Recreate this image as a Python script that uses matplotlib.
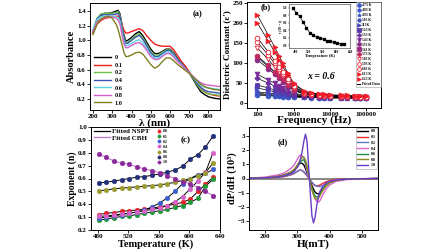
import matplotlib
matplotlib.use("Agg")
import matplotlib.pyplot as plt
from matplotlib.lines import Line2D

plt.rcParams["font.family"] = ["Liberation Serif", "DejaVu Serif"]
plt.rcParams["font.weight"] = "bold"
plt.rcParams["axes.labelweight"] = "bold"
plt.rcParams["axes.linewidth"] = 0.7
plt.rcParams["xtick.major.width"] = 0.6
plt.rcParams["ytick.major.width"] = 0.6
plt.rcParams["xtick.major.size"] = 2
plt.rcParams["ytick.major.size"] = 2
plt.rcParams["xtick.minor.size"] = 0
plt.rcParams["ytick.minor.size"] = 0

# ---------- (a) UV-vis absorbance ----------
wl = [200, 220, 240, 260, 280, 300, 320, 330, 340, 350, 360, 370, 380, 400, 420, 440, 460, 480,
      500, 520, 540, 560, 580, 600, 620, 640, 660, 680, 700, 720, 740, 760, 780, 800, 830, 860]
abs_0 = [1.10, 1.28, 1.35, 1.37, 1.37, 1.38, 1.40, 1.41, 1.36, 1.22, 1.08, 0.99, 1.00, 1.04, 1.09, 1.12, 1.06, 0.97,
         0.88, 0.82, 0.82, 0.85, 0.88, 0.88, 0.83, 0.75, 0.69, 0.63, 0.56, 0.47, 0.38, 0.30, 0.26, 0.23, 0.21, 0.20]
abs_1 = [1.10, 1.22, 1.27, 1.30, 1.31, 1.32, 1.33, 1.33, 1.30, 1.22, 1.14, 1.10, 1.10, 1.12, 1.14, 1.16, 1.13, 1.06,
         1.00, 0.95, 0.93, 0.92, 0.92, 0.92, 0.87, 0.79, 0.71, 0.65, 0.57, 0.49, 0.41, 0.34, 0.30, 0.27, 0.25, 0.24]
abs_2 = [1.14, 1.30, 1.36, 1.37, 1.37, 1.37, 1.38, 1.39, 1.34, 1.20, 1.05, 0.97, 0.97, 1.01, 1.06, 1.09, 1.03, 0.94,
         0.85, 0.80, 0.80, 0.84, 0.87, 0.87, 0.82, 0.74, 0.68, 0.62, 0.56, 0.48, 0.40, 0.33, 0.29, 0.27, 0.26, 0.25]
abs_4 = [1.12, 1.29, 1.34, 1.35, 1.35, 1.35, 1.36, 1.37, 1.32, 1.17, 1.03, 0.96, 0.96, 1.00, 1.04, 1.07, 1.01, 0.92,
         0.83, 0.78, 0.78, 0.82, 0.86, 0.86, 0.81, 0.74, 0.68, 0.62, 0.56, 0.49, 0.42, 0.36, 0.32, 0.30, 0.29, 0.28]
abs_6 = [1.15, 1.28, 1.32, 1.33, 1.33, 1.33, 1.32, 1.31, 1.26, 1.12, 0.99, 0.93, 0.93, 0.96, 0.99, 1.01, 0.96, 0.88,
         0.80, 0.76, 0.76, 0.80, 0.84, 0.84, 0.79, 0.72, 0.67, 0.61, 0.56, 0.50, 0.44, 0.39, 0.36, 0.35, 0.34, 0.33]
abs_8 = [1.12, 1.25, 1.29, 1.31, 1.32, 1.32, 1.30, 1.28, 1.22, 1.08, 0.96, 0.90, 0.90, 0.93, 0.96, 0.97, 0.93, 0.86,
         0.78, 0.74, 0.74, 0.78, 0.82, 0.82, 0.77, 0.71, 0.66, 0.61, 0.56, 0.51, 0.46, 0.42, 0.40, 0.39, 0.38, 0.37]
abs_10 = [1.08, 1.22, 1.29, 1.32, 1.33, 1.30, 1.22, 1.15, 1.05, 0.95, 0.84, 0.78, 0.78, 0.80, 0.83, 0.84, 0.81, 0.74,
          0.67, 0.62, 0.65, 0.71, 0.76, 0.76, 0.72, 0.67, 0.63, 0.59, 0.55, 0.50, 0.45, 0.40, 0.37, 0.35, 0.33, 0.32]
abs_labels = ["0", "0.1", "0.2", "0.4", "0.6", "0.8", "1.0"]
abs_colors = ["black", "#ee1c1c", "#6cc24a", "#3a55b4", "#5fd3e0", "#d35fc8", "#808020"]

# ---------- (b) dielectric constant ----------
freq = [100, 200, 300, 400, 500, 700, 1000, 2000, 3000, 5000, 7000, 10000, 20000, 30000, 50000, 70000, 100000]
temps_b = ["473 K", "483 K", "493 K", "503 K", "513K", "523 K", "533 K", "543 K",
           "553 K", "563 K", "573 K", "583 K", "593 K", "603 K", "613 K", "623 K"]
eps = [
    [20, 18.5, 17.5, 17, 16.5, 16, 15.5, 14.5, 14, 13.5, 13.5, 13, 13, 12.5, 12.5, 12, 12],
    [22, 20, 19, 18, 17.5, 16.5, 16, 15, 14.5, 14, 13.5, 13.5, 13, 13, 12.5, 12.5, 12.5],
    [25, 22, 20.5, 19.5, 18.5, 17.5, 16.5, 15, 14.5, 14, 14, 13.5, 13.5, 13, 13, 13, 12.5],
    [28, 25, 23, 21, 20, 18.5, 17, 15.5, 15, 14.5, 14, 14, 13.5, 13.5, 13, 13, 13],
    [38, 32, 28, 26, 24, 21, 19, 16.5, 15.5, 15, 14.5, 14, 14, 13.5, 13.5, 13, 13],
    [45, 38, 33, 30, 27, 23, 20, 17, 16, 15, 15, 14.5, 14, 14, 13.5, 13.5, 13.5],
    [62, 50, 43, 38, 34, 28, 23, 18, 17, 16, 15.5, 15, 14.5, 14.5, 14, 14, 14],
    [72, 58, 50, 44, 39, 32, 26, 19, 17.5, 16.5, 16, 15.5, 15, 15, 14.5, 14.5, 14],
    [108, 86, 72, 62, 54, 43, 32, 22, 20, 18, 17.5, 17, 16, 15.5, 15, 15, 14.5],
    [115, 91, 76, 65, 57, 45, 33, 23, 20, 18.5, 18, 17, 16.5, 16, 15.5, 15, 15],
    [118, 94, 78, 67, 59, 46, 34, 23, 21, 19, 18, 17.5, 16.5, 16, 15.5, 15.5, 15],
    [138, 109, 90, 77, 67, 52, 37, 25, 22, 20, 19, 18, 17, 16.5, 16, 16, 15.5],
    [152, 120, 99, 84, 73, 56, 40, 26, 23, 20, 19, 18.5, 17.5, 17, 16.5, 16, 16],
    [163, 128, 106, 90, 78, 60, 42, 27, 24, 21, 20, 19, 18, 17.5, 17, 16.5, 16],
    [200, 155, 128, 108, 92, 70, 47, 29, 25, 22, 21, 20, 19, 18.5, 18, 17.5, 17],
    [220, 170, 140, 118, 100, 75, 50, 30, 26, 23, 22, 21, 20, 19.5, 19, 18.5, 18],
]
b_colors = ["#3b5bc8", "#3b5bc8", "#3d55c0", "#4050c0", "#4a46b8", "#5a3aa8", "#6a2fa0", "#7a2a98",
            "#8a2a8a", "#9a2a80", "#c02a60", "#e02a40", "#e8283a", "#ee2030", "#f01e2a", "#f01e28"]
b_markers = ["o", "h", "*", "H", ">", "s", "P", "v", "o", "s", "o", "v", "o", "o", ">", ">"]
b_open = [False] * 10 + [False, True, True, True, False, False]

# inset: relaxation vs temperature
inset_T = [473, 483, 493, 503, 513, 523, 533, 543, 553, 563, 573, 583, 593, 603, 613, 623]
inset_v = [1.0, 0.86, 0.77, 0.62, 0.46, 0.32, 0.26, 0.22, 0.19, 0.15, 0.12, 0.10, 0.07, 0.05, 0.04, 0.03]

# ---------- (c) exponent n ----------
temp_c = [481, 491, 501, 511, 521, 531, 541, 551, 561, 571, 581, 591, 601, 611, 621, 631]
n_series = {
    "0.0": [0.32, 0.33, 0.335, 0.345, 0.35, 0.355, 0.36, 0.37, 0.38, 0.39, 0.40, 0.415, 0.44, 0.50, 0.555, 0.61],
    "0.1": [0.275, 0.285, 0.295, 0.305, 0.31, 0.32, 0.33, 0.34, 0.35, 0.36, 0.375, 0.39, 0.415, 0.445, 0.54, 0.595],
    "0.2": [0.295, 0.30, 0.31, 0.32, 0.33, 0.34, 0.355, 0.38, 0.41, 0.45, 0.50, 0.56, 0.60, 0.63, 0.64, 0.67],
    "0.4": [0.305, 0.31, 0.315, 0.325, 0.33, 0.34, 0.35, 0.36, 0.37, 0.39, 0.42, 0.46, 0.52, 0.58, 0.65, 0.80],
    "0.6": [0.505, 0.51, 0.52, 0.525, 0.53, 0.535, 0.54, 0.545, 0.55, 0.56, 0.57, 0.585, 0.60, 0.62, 0.645, 0.72],
    "0.8": [0.565, 0.572, 0.58, 0.59, 0.60, 0.61, 0.615, 0.625, 0.635, 0.65, 0.665, 0.695, 0.75, 0.785, 0.845, 0.93],
    "1.0": [0.79, 0.765, 0.735, 0.72, 0.71, 0.69, 0.675, 0.66, 0.645, 0.62, 0.60, 0.575, 0.56, 0.53, 0.50, 0.465],
}
n_colors = ["#e8202a", "#1f9a3a", "#3a5fcd", "#d462c8", "#9a9a30", "#22307a", "#8a2a9a"]

# ---------- (d) EPR ----------
field = [150, 200, 240, 260, 280, 290, 300, 305, 310, 315, 320, 325, 330, 335, 340, 345, 350, 355,
         360, 365, 370, 380, 390, 400, 420, 450, 500, 550]
epr = {
    "0.0": [0.01, 0.05, 0.15, 0.25, 0.45, 0.6, 0.85, 1.0, 1.08, 1.05, 0.95, 0.7, 0.4, 0.1, -0.2, -0.5, -0.75, -0.95,
            -1.05, -1.08, -1.0, -0.7, -0.45, -0.3, -0.12, -0.05, -0.02, 0.0],
    "0.1": [0.0, 0.03, 0.08, 0.13, 0.25, 0.35, 0.5, 0.58, 0.6, 0.55, 0.45, 0.32, 0.18, 0.05, -0.12, -0.28, -0.42, -0.5,
            -0.52, -0.5, -0.45, -0.33, -0.22, -0.15, -0.07, -0.03, -0.01, 0.0],
    "0.2": [0.0, 0.04, 0.1, 0.16, 0.28, 0.38, 0.5, 0.56, 0.58, 0.55, 0.48, 0.36, 0.22, 0.06, -0.1, -0.25, -0.38, -0.47,
            -0.53, -0.56, -0.56, -0.48, -0.38, -0.28, -0.14, -0.06, -0.02, 0.0],
    "0.4": [0.02, 0.1, 0.25, 0.4, 0.7, 0.95, 1.35, 1.55, 1.65, 1.6, 1.4, 1.0, 0.5, 0.1, -0.3, -0.7, -1.1, -1.45,
            -1.6, -1.65, -1.55, -1.1, -0.7, -0.45, -0.2, -0.08, -0.03, 0.0],
    "0.6": [0.01, 0.04, 0.12, 0.2, 0.38, 0.55, 0.82, 1.0, 1.17, 1.28, 1.3, 1.12, 0.75, 0.25, -0.25, -0.7, -1.02, -1.22,
            -1.3, -1.25, -1.08, -0.72, -0.45, -0.28, -0.11, -0.05, -0.02, 0.0],
    "0.8": [0.01, 0.05, 0.15, 0.25, 0.45, 0.65, 0.95, 1.15, 1.35, 1.48, 1.5, 1.3, 0.9, 0.3, -0.3, -0.8, -1.15, -1.38,
            -1.45, -1.4, -1.2, -0.8, -0.5, -0.3, -0.12, -0.05, -0.02, 0.0],
    "1.0": [0.0, 0.05, 0.12, 0.2, 0.35, 0.5, 0.8, 1.0, 1.4, 1.9, 2.6, 3.1, 2.6, 0.8, -1.0, -2.6, -3.1, -2.7,
            -1.9, -1.3, -0.9, -0.5, -0.3, -0.2, -0.1, -0.05, -0.02, 0.0],
}
epr_colors = ["black", "#ee2a2a", "#5a78c8", "#d864c8", "#208a4a", "#8c8c1c", "#6a3cc8"]

W, H = 448, 252
fig = plt.figure(figsize=(4.48, 2.52), dpi=100)


def rect(x0, y0, x1, y1):
    return [x0 / W, 1 - y1 / H, (x1 - x0) / W, (y1 - y0) / H]


tick_fs = 5

# (a)
ax = fig.add_axes(rect(90, 3, 220, 110))
for ys, lab, c in zip([abs_0, abs_1, abs_2, abs_4, abs_6, abs_8, abs_10], abs_labels, abs_colors):
    ax.plot(wl, ys, color=c, lw=1.0, label=lab)
ax.set_xlim(184, 860)
ax.set_ylim(0.05, 1.51)
ax.set_xticks([200, 300, 400, 500, 600, 700, 800])
ax.set_yticks([0.2, 0.4, 0.6, 0.8, 1.0, 1.2, 1.4])
ax.tick_params(labelsize=tick_fs, pad=1)
ax.set_xlabel("λ (nm)", fontsize=8, labelpad=-0.5)
ax.set_ylabel("Absorbance", fontsize=7.5, labelpad=1)
ax.text(0.83, 0.90, "(a)", transform=ax.transAxes, fontsize=6, ha="center", va="center")
ax.legend(loc="lower left", bbox_to_anchor=(0.0, 0.0), frameon=False, fontsize=4.5,
          handlelength=2.6, labelspacing=0.35, borderaxespad=0.3, handletextpad=0.6)

# (b)
ax = fig.add_axes(rect(247, 2, 381, 108))
for ys, lab, c, m, op in zip(eps, temps_b, b_colors, b_markers, b_open):
    ax.plot(freq, ys, color="black", lw=0.5, zorder=1)
    ax.plot(freq, ys, ls="none", marker=m, ms=3.4, mfc="white" if op else c, mec=c, mew=0.6,
            label=lab, zorder=2)
ax.set_xscale("log")
ax.set_xlim(52, 260000)
ax.set_ylim(-12, 252)
ax.set_xticks([100, 1000, 10000, 100000])
ax.set_xticklabels(["100", "1000", "10000", "100000"])
ax.set_yticks([0, 50, 100, 150, 200, 250])
ax.tick_params(labelsize=tick_fs, pad=1)
ax.set_xlabel("Frequency (Hz)", fontsize=8, labelpad=-1)
ax.set_ylabel("Dielectric Constant (ε′)", fontsize=6.5, labelpad=1)
ax.text(0.14, 0.95, "(b)", transform=ax.transAxes, fontsize=6, ha="center", va="center")
ax.text(0.55, 0.30, "x = 0.6", transform=ax.transAxes, fontsize=7, style="italic",
        ha="center", va="center")
handles, labels = ax.get_legend_handles_labels()
handles.append(Line2D([], [], color="black", lw=0.8))
labels.append("Fitted Data")
leg = ax.legend(handles, labels, loc="upper right", fontsize=2.6, frameon=True, fancybox=False,
                edgecolor="#888888", handlelength=1.0, labelspacing=0.25, borderpad=0.3,
                borderaxespad=0.1, handletextpad=0.4, markerscale=0.8)
leg.get_frame().set_linewidth(0.4)

ins = fig.add_axes(rect(289, 4, 350, 48))
ins.plot(inset_T, inset_v, color="black", lw=0.5, marker="s", ms=1.6)
ins.set_xlim(462, 640)
ins.set_ylim(-0.08, 1.1)
ins.set_xticks([480, 520, 560, 600, 640])
ins.set_yticks([0.0, 0.2, 0.4, 0.6, 0.8, 1.0])
ins.tick_params(labelsize=2.5, pad=0.5, length=1, width=0.3)
for s in ins.spines.values():
    s.set_linewidth(0.5)
    s.set_color("#555555")
ins.set_xlabel("Temperature (K)", fontsize=3, labelpad=0)
ins.set_ylabel("τ (10⁻⁴ s)", fontsize=2.5, labelpad=0.5)

# (c)
ax = fig.add_axes(rect(91, 127, 220, 230))
for (lab, ys), c in zip(n_series.items(), n_colors):
    fit_c = "#c070d0" if lab == "1.0" else "black"
    ax.plot(temp_c, ys, color=fit_c, lw=0.7, zorder=1)
    ax.plot(temp_c, ys, ls="none", marker="o", ms=3.4, mfc=c, mec=c, mew=0.3, label=lab, zorder=2)
ax.set_xlim(471, 640)
ax.set_ylim(0.2, 1.0)
ax.set_xticks([480, 520, 560, 600, 640])
ax.set_yticks([0.2, 0.3, 0.4, 0.5, 0.6, 0.7, 0.8, 0.9, 1.0])
ax.tick_params(labelsize=tick_fs, pad=1)
ax.set_xlabel("Temperature (K)", fontsize=7.5, labelpad=0)
ax.set_ylabel("Exponent (n)", fontsize=7, labelpad=1)
ax.text(0.73, 0.87, "(c)", transform=ax.transAxes, fontsize=6.5, ha="center", va="center")
mleg = ax.legend(loc="upper left", bbox_to_anchor=(0.50, 1.0), fontsize=2.8, frameon=False,
                 handlelength=0.8, labelspacing=0.3, borderaxespad=0.2, handletextpad=0.5,
                 markerscale=0.7)
ax.add_artist(mleg)
fit_h = [Line2D([], [], color="black", lw=0.9), Line2D([], [], color="#c070d0", lw=0.9)]
ax.legend(fit_h, ["Fitted NSPT", "Fitted CBH"], loc="upper left", bbox_to_anchor=(0.0, 1.02),
          fontsize=5, frameon=False, handlelength=2.2, labelspacing=0.1, handletextpad=0.3,
          borderaxespad=0.1)

# (d)
ax = fig.add_axes(rect(249, 127, 378, 230))
ax.axhline(0, color="#888888", lw=1.4, zorder=0)
for (lab, ys), c in zip(epr.items(), epr_colors):
    ax.plot(field, ys, color=c, lw=1.0, label=lab)
ax.set_xlim(150, 550)
ax.set_ylim(-3.6, 3.6)
ax.set_xticks([200, 300, 400, 500])
ax.set_yticks([-3, -2, -1, 0, 1, 2, 3])
ax.tick_params(labelsize=tick_fs, pad=1)
ax.set_xlabel("H(mT)", fontsize=8, labelpad=0)
ax.set_ylabel("dP/dH (10³)", fontsize=7.5, labelpad=0)
ax.text(0.26, 0.85, "(d)", transform=ax.transAxes, fontsize=6, ha="center", va="center")
leg = ax.legend(loc="upper right", fontsize=3, frameon=True, fancybox=False, edgecolor="#888888",
                handlelength=2.6, labelspacing=0.4, borderpad=0.4, borderaxespad=0.2,
                handletextpad=0.5)
leg.get_frame().set_linewidth(0.4)

fig.savefig("out.png", dpi=100)
